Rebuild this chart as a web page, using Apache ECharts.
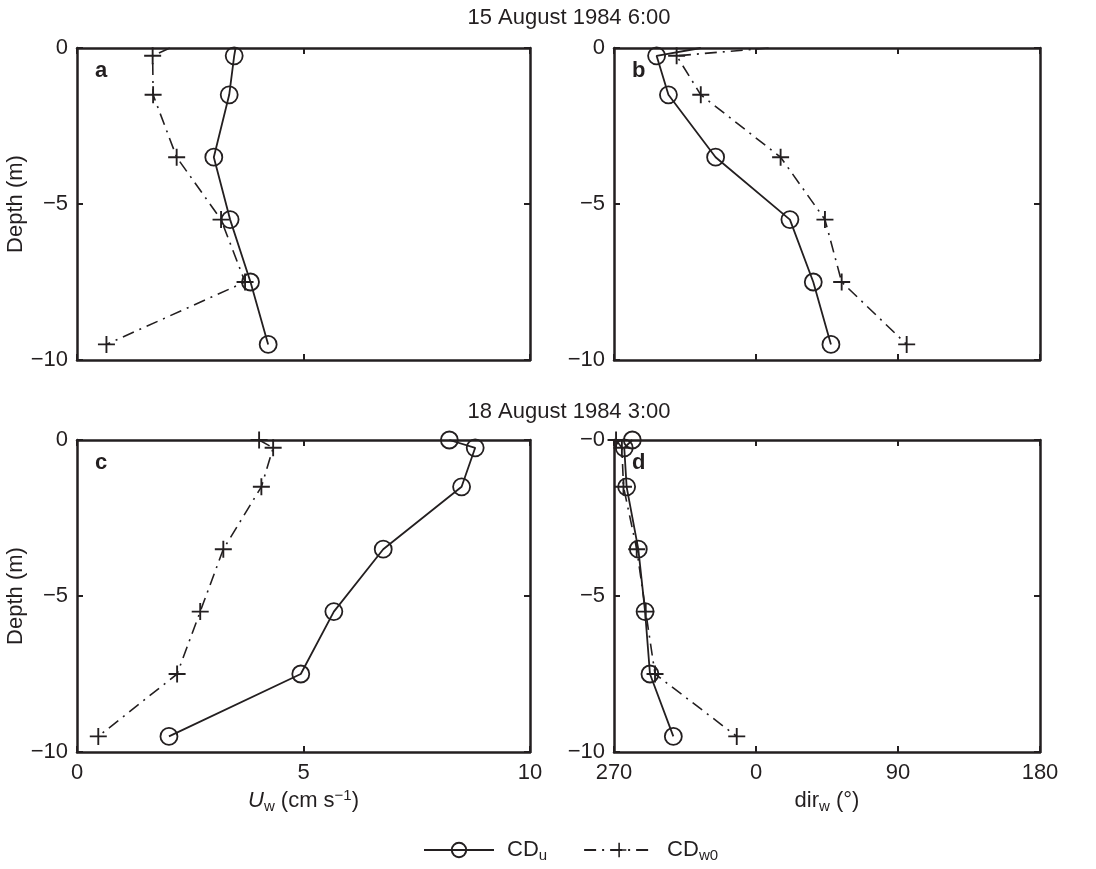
<!DOCTYPE html>
<html>
<head>
<meta charset="utf-8">
<script src="https://cdn.jsdelivr.net/npm/echarts@6/dist/echarts.min.js"></script>
<style>
  html, body { margin: 0; padding: 0; background: #fff; }
  #main { width: 1096px; height: 869px; }
</style>
</head>
<body>
<div id="main"></div>
<script>
// depths (m), shared by every profile
const depth = [0, -0.25, -1.5, -3.5, -5.5, -7.5, -9.5]

// 15 August 1984 6:00
const aCDu = [3.5, 3.47, 3.36, 3.02, 3.38, 3.83, 4.22]
const aCDw0 = [2.05, 1.67, 1.68, 2.2, 3.18, 3.71, 0.65]
const bCDu = [-35, -63, -55.5, -25.6, 21.5, 36.3, 47.5]
const bCDw0 = [8, -50.3, -35, 15.6, 43.7, 54.3, 95.5]

// 18 August 1984 3:00
const cCDu = [8.22, 8.79, 8.49, 6.76, 5.67, 4.94, 2.03]
const cCDw0 = [4.02, 4.33, 4.07, 3.23, 2.72, 2.21, 0.47]
const dCDu = [-78.4, -83.5, -82, -74.6, -70.3, -67.2, -52.4]
const dCDw0 = [-88.7, -85, -84, -75.6, -69.9, -64, -12.2]

const titles = ['15 August 1984 6:00', '18 August 1984 3:00']
const letters = ['a', 'b', 'c', 'd']
const speedTicks = [0, 5, 10]
const dirTicks = [-90, 0, 90, 180]  // shown as 270, 0, 90, 180

const FONT = '"Liberation Sans", Arial, Helvetica, sans-serif'
const INK = '#231f20'
const plus = 'path://M-0.11,-1 L0.11,-1 L0.11,-0.11 L1,-0.11 L1,0.11 L0.11,0.11 L0.11,1 L-0.11,1 L-0.11,0.11 L-1,0.11 L-1,-0.11 L-0.11,-0.11 Z'

let myChart = echarts.init(document.getElementById('main'))

const grids = [
  { left: 77, top: 48, width: 453, height: 312 },
  { left: 614, top: 48, width: 426, height: 312 },
  { left: 77, top: 440, width: 453, height: 312 },
  { left: 614, top: 440, width: 426, height: 312 }
]

const minus = v => v < 0 ? '\u2212' + (-v) : String(v)

function xRange(i) {
  if (i % 2 == 0) return { min: speedTicks[0], max: speedTicks[2], interval: 5 }
  return { min: dirTicks[0], max: dirTicks[3], interval: 90 }
}

const edgeLine = { show: true, onZero: false, lineStyle: { color: INK, width: 2.5 } }
const edgeTick = { show: true, inside: true, length: 6, lineStyle: { color: INK, width: 2 } }
const labelStyle = { color: INK, fontSize: 22, fontFamily: FONT }

let xAxes = [], yAxes = []
for (let i = 0; i < 4; i++) {
  let r = xRange(i)
  let bottomRow = i >= 2
  let xa = Object.assign({
    type: 'value', gridIndex: i, position: 'bottom',
    axisLine: edgeLine, axisTick: edgeTick, splitLine: { show: false },
    axisLabel: Object.assign({ show: bottomRow, margin: 10,
      formatter: i % 2 == 0 ? (v => String(v)) : (v => String(v < 0 ? v + 360 : v)) }, labelStyle)
  }, r)
  if (i == 2) {
    xa.name = '{i|U}{sub|w}{t| (cm s}{sup|\u22121}{t|)}'
  } else if (i == 3) {
    xa.name = '{t|dir}{sub|w}{t| (\u00b0)}'
  }
  if (bottomRow) {
    xa.nameLocation = 'middle'
    xa.nameGap = 36
    xa.nameTextStyle = {
      color: INK, fontFamily: FONT,
      rich: {
        t: { fontSize: 22, fontFamily: FONT, color: INK, lineHeight: 26, verticalAlign: 'middle' },
        i: { fontSize: 22, fontFamily: FONT, color: INK, fontStyle: 'italic', lineHeight: 26, verticalAlign: 'middle' },
        sub: { fontSize: 15, fontFamily: FONT, color: INK, lineHeight: 14, verticalAlign: 'bottom' },
        sup: { fontSize: 15, fontFamily: FONT, color: INK, lineHeight: 14, verticalAlign: 'top' }
      }
    }
  }
  xAxes.push(xa)
}
for (let i = 0; i < 4; i++) {
  xAxes.push(Object.assign({
    type: 'value', gridIndex: i, position: 'top',
    axisLine: edgeLine, axisTick: edgeTick, splitLine: { show: false }, axisLabel: { show: false }
  }, xRange(i)))
}
for (let i = 0; i < 4; i++) {
  let ya = {
    type: 'value', gridIndex: i, position: 'left', min: -10, max: 0, interval: 5,
    axisLine: edgeLine, axisTick: edgeTick, splitLine: { show: false },
    axisLabel: Object.assign({ margin: 9,
      formatter: v => (v == 0 && i == 3) ? '\u22120' : minus(v) }, labelStyle)
  }
  if (i % 2 == 0) {
    ya.name = 'Depth (m)'
    ya.nameLocation = 'middle'
    ya.nameGap = 48
    ya.nameTextStyle = { color: INK, fontSize: 22, fontFamily: FONT }
  }
  yAxes.push(ya)
}
for (let i = 0; i < 4; i++) {
  yAxes.push({
    type: 'value', gridIndex: i, position: 'right', min: -10, max: 0, interval: 5,
    axisLine: edgeLine, axisTick: edgeTick, splitLine: { show: false }, axisLabel: { show: false }
  })
}

// top row: the surface point is drawn without a marker
function profile(vals, hideFirst) {
  return vals.map((v, k) => (hideFirst && k == 0) ? { value: [v, depth[k]], symbol: 'none' } : [v, depth[k]])
}

const panels = [[aCDu, aCDw0], [bCDu, bCDw0], [cCDu, cCDw0], [dCDu, dCDw0]]
let series = []
panels.forEach((p, i) => {
  series.push({
    name: 'CD_u', type: 'line', xAxisIndex: i, yAxisIndex: i,
    data: profile(p[0], i < 2),
    symbol: 'circle', symbolSize: 17,
    lineStyle: { color: INK, width: 1.8 },
    itemStyle: { color: 'rgba(255,255,255,0)', borderColor: INK, borderWidth: 1.8 },
    animation: false, z: 3
  })
  series.push({
    name: 'CD_w0', type: 'line', xAxisIndex: i, yAxisIndex: i,
    data: profile(p[1], i < 2),
    symbol: plus, symbolSize: 17,
    lineStyle: { color: INK, width: 1.6, type: [12, 6, 2, 6] },
    itemStyle: { color: INK },
    animation: false, z: 2
  })
})

let graphics = grids.map((g, i) => ({
  type: 'text', left: g.left + 18, top: g.top + 12,
  style: { text: letters[i], font: 'bold 22px ' + FONT, fill: INK }
}))

myChart.setOption({
  backgroundColor: '#fff',
  animation: false,
  title: [
    { text: titles[0], left: 564, top: 2, textAlign: 'center',
      textStyle: { color: INK, fontSize: 22, fontWeight: 'normal', fontFamily: FONT } },
    { text: titles[1], left: 564, top: 396, textAlign: 'center',
      textStyle: { color: INK, fontSize: 22, fontWeight: 'normal', fontFamily: FONT } }
  ],
  grid: grids,
  xAxis: xAxes,
  yAxis: yAxes,
  legend: {
    data: ['CD_u', 'CD_w0'],
    left: 418, top: 834,
    itemWidth: 70, itemHeight: 18, itemGap: 36,
    selectedMode: false,
    formatter: n => n == 'CD_u' ? '{t|CD}{s|u}' : '{t|CD}{s|w0}',
    textStyle: {
      color: INK, fontFamily: FONT, padding: [0, 0, 0, 8],
      rich: {
        t: { fontSize: 22, fontFamily: FONT, color: INK, lineHeight: 26, verticalAlign: 'middle' },
        s: { fontSize: 15, fontFamily: FONT, color: INK, lineHeight: 14, verticalAlign: 'bottom' }
      }
    }
  },
  graphic: graphics,
  series: series
})
window.onresize = function() {
  myChart.resize()
}
</script>
</body>
</html>
